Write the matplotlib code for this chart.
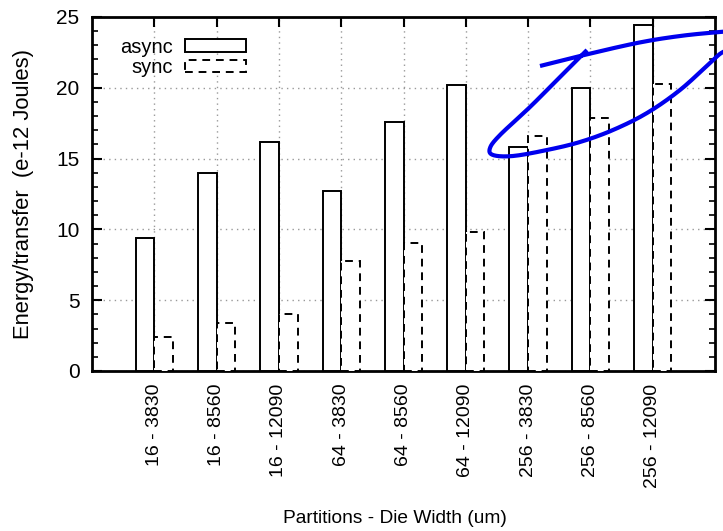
import numpy as np
import matplotlib
matplotlib.use("Agg")
import matplotlib.pyplot as plt
from matplotlib.patches import Patch
from matplotlib.lines import Line2D
from matplotlib.ticker import MultipleLocator

plt.rcParams['font.family'] = ['Liberation Sans', 'DejaVu Sans']

categories = ["16 - 3830", "16 - 8560", "16 - 12090",
              "64 - 3830", "64 - 8560", "64 - 12090",
              "256 - 3830", "256 - 8560", "256 - 12090"]
async_vals = [9.4, 14.0, 16.2, 12.7, 17.6, 20.2, 15.8, 20.0, 24.4]
sync_vals = [2.4, 3.4, 4.05, 7.8, 9.05, 9.8, 16.6, 17.85, 20.3]

W, H = 723, 531
fig = plt.figure(figsize=(W / 100, H / 100), dpi=100)
ax = fig.add_axes([92 / W, 1 - 371 / H, (715 - 92) / W, (371 - 17) / H])

x = np.arange(len(categories))
bw = 0.3
ax.bar(x, async_vals, width=-bw, align='edge', facecolor='white',
       edgecolor='black', linewidth=1.4, zorder=3)
ax.bar(x, sync_vals, width=bw, align='edge', facecolor='white',
       edgecolor='black', linewidth=1.4, linestyle=(0, (4, 3)), zorder=3)

ax.set_xlim(-1, len(categories))
ax.set_ylim(0, 25)
ax.set_xticks(x)
ax.set_xticklabels(categories, rotation=90, fontsize=14)
ax.set_yticks(np.arange(0, 26, 5))
ax.yaxis.set_minor_locator(MultipleLocator(1))
ax.tick_params(axis='both', which='both', direction='in', top=True, right=True)
ax.tick_params(axis='y', which='major', length=7, width=1.5, labelsize=15, pad=9)
ax.tick_params(axis='y', which='minor', length=4, width=1.2)
ax.tick_params(axis='x', which='major', length=7, width=1.5, pad=9)
for s in ax.spines.values():
    s.set_linewidth(2)
ax.grid(True, which='major', linestyle=(0, (1, 3)), color='#999999', linewidth=1, zorder=0)
ax.set_axisbelow(True)

ax.set_xlabel("Partitions - Die Width (um)", fontsize=13.8, labelpad=20)
ax.xaxis.set_label_coords((395 - 92) / 623, -(510 - 371) / 354, transform=ax.transAxes)
ax.set_ylabel("Energy/transfer  (e-12 Joules)", fontsize=15.8, labelpad=16)

handles = [Patch(facecolor='white', edgecolor='black', linewidth=1.4),
           Patch(facecolor='white', edgecolor='black', linewidth=1.4, linestyle=(0, (4, 3)))]
ax.legend(handles, ["async", "sync"], loc='upper left', bbox_to_anchor=(0.016, 0.993),
          frameon=False, markerfirst=False, fontsize=14.5, handlelength=3.05,
          handleheight=0.6, labelspacing=0.07, handletextpad=0.6)

# hand-drawn blue annotation stroke (figure pixel coordinates)
stroke = np.array([
    (540, 66), (580, 56), (637, 43), (680, 36), (720, 32), (742, 31), (752, 38),
    (740, 47), (723, 52), (710, 63), (680, 90), (647, 113), (613, 130),
    (580, 142), (547, 150), (513, 156), (493, 155), (490, 148), (500, 135),
    (530, 107), (557, 80), (580, 57), (587, 50)], dtype=float)


def catmull_rom(pts, n=20):
    p = np.vstack([pts[0], pts, pts[-1]])
    out = []
    for i in range(1, len(p) - 2):
        p0, p1, p2, p3 = p[i - 1], p[i], p[i + 1], p[i + 2]
        tt = np.linspace(0, 1, n, endpoint=False)[:, None]
        seg = 0.5 * ((2 * p1) + (-p0 + p2) * tt + (2 * p0 - 5 * p1 + 4 * p2 - p3) * tt ** 2
                     + (-p0 + 3 * p1 - 3 * p2 + p3) * tt ** 3)
        out.append(seg)
    out.append(pts[-1][None, :])
    return np.vstack(out)


curve = catmull_rom(stroke)
fig.add_artist(Line2D(curve[:, 0] / W, 1 - curve[:, 1] / H, transform=fig.transFigure,
                      color='#0000ee', linewidth=3, solid_capstyle='butt'))

fig.savefig("out.png", dpi=100)
